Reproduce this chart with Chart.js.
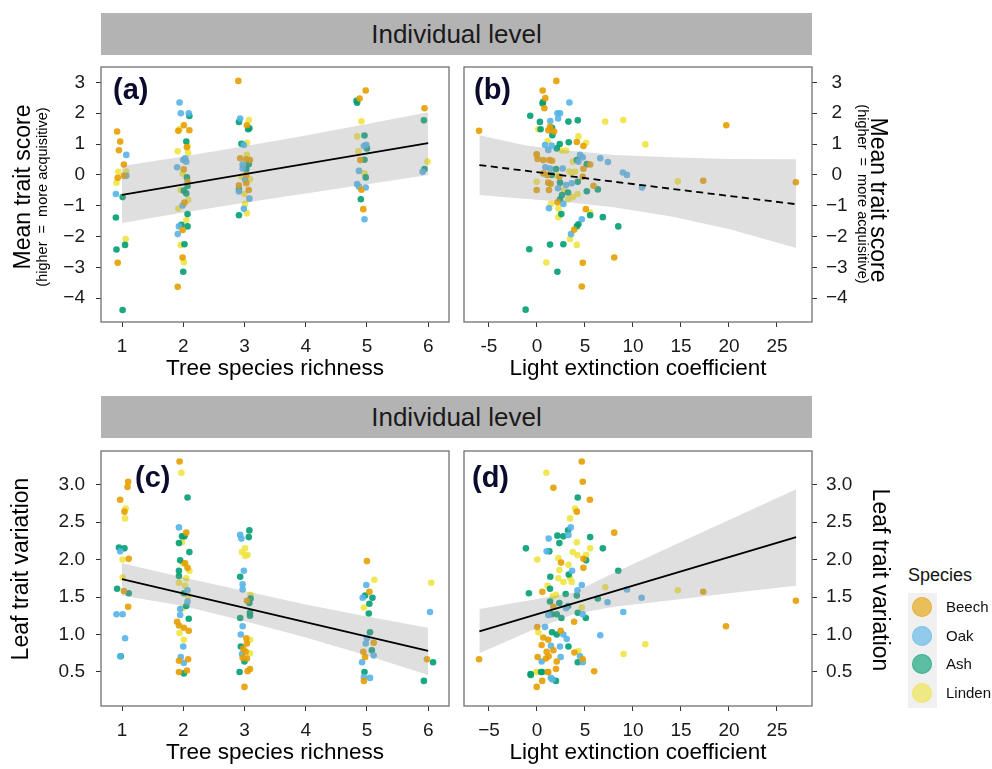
<!DOCTYPE html>
<html>
<head>
<meta charset="utf-8">
<script src="https://cdn.jsdelivr.net/npm/chart.js@4.4.1/dist/chart.umd.min.js"></script>
<style>
  html, body { margin: 0; padding: 0; background: #fff; overflow: hidden; }
  #page { position: relative; width: 992px; height: 769px; font-family: "Liberation Sans", Arial, sans-serif; }
  canvas { position: absolute; }
  .strip { position: absolute; left: 101px; width: 711px; height: 42px; background: #b3b3b3;
           color: #1a1a1a; font-size: 26px; line-height: 42px; text-align: center; }
  #legend { position: absolute; left: 908px; top: 562px; width: 84px; }
  #legend .ttl { font-size: 18px; height: 26px; line-height: 26px; color: #111; }
  #legend .keys { position: absolute; left: 0; top: 31px; width: 29px; height: 115px; background: #f0f0f0; }
  #legend .dot { position: absolute; left: 4px; width: 20px; height: 20px; border-radius: 50%; }
  #legend .lab { position: absolute; left: 38px; font-size: 15px; line-height: 20px; color: #111; }
</style>
</head>
<body>
<div id="page">
  <div class="strip" style="top:13px">Individual level</div>
  <div class="strip" style="top:396px">Individual level</div>
  <canvas id="pa" width="460" height="330" style="left:0;top:60px"></canvas>
  <canvas id="pb" width="445" height="330" style="left:455px;top:60px"></canvas>
  <canvas id="pc" width="460" height="330" style="left:0;top:444px"></canvas>
  <canvas id="pd" width="445" height="330" style="left:455px;top:444px"></canvas>
  <div id="legend"><div class="ttl">Species</div><div class="keys"></div></div>
</div>
<script>
// species: 0 Beech, 1 Oak, 2 Ash, 3 Linden
const speciesNames = ['Beech', 'Oak', 'Ash', 'Linden'];
const speciesColors = ['230,159,0', '86,180,233', '0,158,115', '240,228,66'];

// [richness (jittered), mean trait score, species]
const richnessScore = [
  [0.92,1.41,0],[0.97,1.08,0],[0.95,0.80,0],[1.03,0.34,0],[0.94,0.10,3],[0.93,-0.09,0],[1.07,0.11,3],[1.07,0.65,1],[1.07,-0.03,1],[1.03,-0.03,0],
  [0.91,-0.25,3],[0.90,-0.62,1],[1.01,-0.72,2],[0.90,-1.38,2],[1.06,-2.08,3],[1.05,-2.27,2],[0.91,-2.42,2],[0.93,-2.85,0],[1.01,-4.38,2],
  [1.94,2.35,1],[1.96,2.0,1],[2.09,2.0,1],[2.10,1.91,2],[2.01,1.61,0],[2.10,1.45,0],[1.92,1.43,0],[1.94,1.48,3],[2.05,1.08,2],[2.07,0.94,3],
  [2.06,0.90,0],[1.91,0.77,3],[2.08,0.72,3],[2.03,0.54,1],[2.0,0.48,1],[2.05,0.43,1],[1.90,0.25,1],[2.01,0.18,0],[1.99,0.05,3],[2.06,-0.08,2],
  [2.07,-0.22,0],[2.07,-0.36,2],[1.96,-0.49,3],[2.01,-0.51,2],[2.05,-0.60,2],[2.02,-0.90,0],[2.08,-0.81,3],[1.99,-0.99,1],[1.92,-1.09,3],[2.07,-1.27,2],
  [2.05,-1.46,3],[1.97,-1.62,2],[2.07,-1.67,2],[1.93,-1.67,1],[1.99,-1.79,0],[1.91,-1.92,1],[1.96,-2.27,3],[2.02,-2.25,2],[1.99,-2.68,0],[2.01,-2.83,3],
  [2.0,-3.14,2],[1.91,-3.63,0],
  [2.90,3.05,0],[2.93,1.83,1],[2.91,1.72,2],[3.07,1.78,3],[3.04,1.61,0],[3.08,1.51,2],[3.06,1.48,2],[2.95,1.01,2],[2.99,0.97,1],[3.04,1.04,3],
  [3.04,0.65,3],[2.93,0.54,0],[3.09,0.48,0],[3.03,0.51,0],[3.07,0.35,2],[2.97,0.34,1],[2.97,0.21,1],[3.03,0.18,2],[2.95,-0.06,3],[3.03,0.0,0],
  [3.01,-0.16,1],[3.09,-0.14,3],[3.03,-0.27,0],[2.91,-0.34,0],[3.07,-0.49,0],[2.91,-0.47,2],[2.91,-0.54,1],[3.0,-0.62,3],[3.08,-0.77,1],[3.01,-0.94,3],
  [2.99,-1.10,1],[3.04,-1.24,3],[2.91,-1.31,2],
  [4.83,2.40,2],[4.84,2.34,2],[4.88,2.48,0],[4.98,2.74,0],[4.91,1.74,3],[4.96,1.28,2],[4.84,1.25,3],[4.99,0.98,1],[4.95,0.94,1],[5.0,0.86,2],
  [4.86,0.77,3],[4.89,0.48,0],[4.96,0.49,2],[4.87,0.13,1],[4.96,0.05,3],[4.98,-0.08,2],[4.84,-0.30,1],[4.98,-0.41,1],[4.87,-0.38,1],[4.91,-0.48,0],
  [4.90,-0.79,2],[4.94,-1.11,0],[4.96,-1.44,1],
  [5.94,2.16,0],[5.93,1.77,2],[5.99,0.43,3],[5.94,0.19,2],[5.91,0.10,1]
];

// [light extinction coefficient, mean trait score, species]
const lightScore = [
  [-6.03,1.43,0],[2.02,3.05,0],[0.59,2.74,0],[0.87,2.49,0],[0.63,2.36,2],[0.59,2.32,2],[0.77,2.16,0],[3.38,2.35,1],[2.13,2.0,1],[2.40,2.0,1],
  [2.20,1.83,1],[-0.70,1.92,2],[0.31,1.72,2],[1.39,1.75,1],[3.28,1.73,2],[4.25,1.77,2],[7.11,1.73,3],[8.99,1.78,3],[19.72,1.61,0],[0.38,1.48,2],
  [0.14,1.48,3],[1.18,1.45,0],[1.36,1.56,0],[1.57,1.53,2],[1.78,1.41,0],[1.60,1.29,2],[4.32,1.25,3],[1.11,1.10,3],[3.31,1.06,2],[4.15,1.07,0],
  [5.12,1.04,3],[4.84,0.94,0],[0.84,0.97,1],[1.53,0.95,1],[2.37,1.0,2],[2.06,0.86,2],[2.61,0.79,3],[3.03,0.79,3],[11.29,0.99,3],[1.18,0.81,1],
  [-0.03,0.67,0],[-0.03,0.65,3],[4.49,0.65,1],[4.77,0.57,1],[6.59,0.54,1],[7.39,0.42,1],[0.07,0.52,0],[0.66,0.48,0],[1.29,0.48,0],[1.57,0.46,0],
  [4.15,0.48,2],[3.73,0.43,3],[4.32,0.43,1],[5.54,0.34,0],[5.19,0.35,2],[4.84,0.20,0],[0.87,0.25,1],[1.36,0.21,1],[1.99,0.19,2],[2.68,0.21,1],
  [3.38,0.11,3],[3.62,0.08,3],[3.97,0.10,3],[8.95,0.08,1],[9.37,0.0,1],[0.66,0.05,0],[1.08,0.0,0],[1.53,0.0,2],[2.33,-0.06,0],[2.13,-0.03,3],
  [4.77,-0.06,0],[-0.03,-0.22,3],[1.18,-0.25,0],[1.43,-0.29,0],[2.40,-0.25,2],[3.03,-0.33,1],[3.62,-0.27,1],[4.25,-0.22,2],[14.67,-0.21,3],[17.32,-0.19,0],
  [26.97,-0.24,0],[10.94,-0.41,1],[5.89,-0.35,0],[6.34,-0.47,2],[-0.03,-0.49,0],[1.25,-0.49,0],[2.20,-0.43,1],[3.24,-0.57,2],[2.61,-0.65,2],[2.82,-0.49,3],
  [5.19,-0.53,2],[3.28,-0.79,3],[3.73,-0.72,3],[4.22,-0.62,3],[2.40,-0.79,2],[2.75,-0.94,1],[2.13,-0.89,0],[1.46,-0.94,3],[1.25,-1.08,1],[2.23,-1.09,3],
  [5.09,-1.11,0],[5.54,-1.22,3],[5.54,-1.31,2],[2.54,-1.27,2],[2.23,-1.37,3],[6.86,-1.37,2],[4.67,-1.44,1],[8.47,-1.67,2],[4.32,-1.60,2],[4.15,-1.67,2],
  [3.87,-1.78,0],[3.55,-1.92,1],[3.45,-2.08,3],[1.36,-2.26,2],[2.75,-2.25,2],[4.15,-2.27,3],[-0.80,-2.41,2],[8.05,-2.68,0],[0.98,-2.84,3],[4.77,-2.85,0],
  [2.13,-3.14,2],[4.67,-3.62,0],[-1.18,-4.37,2]
];

// [richness (jittered), leaf trait variation, species]
const richnessVar = [
  [1.10,3.04,0],[1.09,2.97,0],[0.97,2.80,0],[1.06,2.68,3],[1.04,2.64,0],[1.05,2.55,3],[0.95,2.16,2],[1.04,2.15,2],[0.97,2.11,1],[1.01,2.0,3],
  [1.11,2.01,0],[1.01,1.76,3],[0.92,1.61,2],[1.03,1.58,0],[1.11,1.55,2],[1.10,1.37,0],[0.91,1.27,1],[1.01,1.27,1],[1.05,0.95,1],[0.98,0.71,2],[0.97,0.71,1],
  [1.94,3.31,0],[1.97,3.16,3],[2.07,2.83,2],[1.93,2.43,1],[2.05,2.36,0],[1.98,2.31,2],[2.02,2.31,2],[1.98,2.23,3],[1.93,2.22,2],[2.10,2.10,2],
  [1.95,1.99,2],[2.0,1.95,3],[2.03,1.95,0],[2.07,1.89,0],[2.10,1.85,3],[1.93,1.85,2],[1.93,1.78,2],[2.05,1.75,3],[1.93,1.69,3],[2.03,1.65,3],
  [2.07,1.59,1],[2.01,1.55,2],[2.08,1.51,3],[2.07,1.44,1],[2.05,1.38,2],[1.95,1.34,1],[1.99,1.35,3],[1.95,1.26,1],[2.09,1.21,2],[1.90,1.17,0],
  [1.93,1.12,0],[2.01,1.09,0],[2.09,1.05,0],[1.94,1.02,3],[2.01,0.93,3],[2.0,0.84,1],[1.96,0.70,1],[2.08,0.67,0],[1.93,0.65,0],[2.01,0.62,1],
  [1.93,0.50,0],[2.01,0.48,2],[2.06,0.52,0],
  [3.08,2.39,2],[2.93,2.33,1],[2.95,2.28,1],[3.07,2.30,2],[3.01,2.15,3],[2.96,2.10,3],[3.05,2.06,3],[3.01,2.05,3],[2.99,1.85,1],[2.93,1.77,2],
  [2.97,1.67,1],[2.97,1.60,1],[3.10,1.53,3],[3.04,1.45,0],[3.10,1.48,2],[3.08,1.42,2],[3.09,1.29,2],[3.09,1.25,2],[2.93,1.22,2],[2.97,1.11,1],
  [2.94,1.0,1],[3.03,0.95,0],[3.09,0.93,3],[3.04,0.88,0],[2.94,0.84,2],[2.98,0.81,0],[3.02,0.77,0],[3.09,0.75,3],[2.96,0.74,1],[2.97,0.69,0],
  [3.04,0.68,0],[3.0,0.64,2],[3.09,0.54,0],[3.05,0.51,0],[2.92,0.50,2],[3.0,0.30,0],
  [5.0,1.98,0],[5.12,1.73,3],[4.99,1.66,1],[5.04,1.57,0],[5.09,1.49,2],[4.93,1.49,1],[4.97,1.52,2],[5.04,1.41,2],[4.95,1.36,3],[5.03,1.28,2],
  [5.05,1.03,2],[5.0,0.95,1],[4.98,0.88,1],[5.11,0.89,0],[4.94,0.77,0],[5.08,0.79,2],[5.11,0.72,1],[4.97,0.70,0],[4.92,0.63,1],[4.96,0.50,2],
  [4.95,0.43,1],[5.05,0.42,1],[4.95,0.38,0],
  [6.05,1.69,3],[6.03,1.30,1],[5.98,0.67,0],[6.08,0.63,2],[5.93,0.38,2]
];

// [light extinction coefficient, leaf trait variation, species]
const lightVar = [
  [4.67,3.31,0],[0.98,3.16,3],[4.77,3.04,0],[1.71,2.96,0],[4.25,2.83,2],[5.51,2.80,0],[3.97,2.68,3],[4.15,2.64,0],[3.45,2.55,3],[3.52,2.43,1],
  [3.24,2.39,2],[8.05,2.36,0],[3.28,2.33,1],[2.13,2.32,2],[2.75,2.31,2],[1.22,2.28,1],[5.54,2.30,2],[2.33,2.22,2],[4.15,2.23,3],[-1.15,2.15,2],
  [6.86,2.15,2],[5.54,2.15,3],[1.01,2.11,1],[1.29,2.11,2],[3.73,2.10,3],[4.22,2.06,3],[5.12,2.06,3],[0.03,2.0,3],[2.23,2.02,3],[4.84,2.01,0],
  [5.12,1.99,2],[2.51,1.96,0],[3.28,1.93,3],[2.33,1.86,3],[4.84,1.89,0],[3.66,1.85,1],[8.47,1.85,2],[3.31,1.80,2],[1.39,1.77,2],[2.23,1.75,3],
  [3.45,1.75,3],[2.75,1.70,3],[3.62,1.70,3],[4.67,1.66,1],[1.11,1.65,3],[1.36,1.61,2],[4.22,1.59,1],[0.56,1.57,0],[-0.84,1.55,2],[2.99,1.54,2],
  [1.99,1.53,3],[7.11,1.63,3],[9.37,1.60,1],[14.67,1.59,3],[17.32,1.57,0],[10.9,1.49,1],[7.35,1.43,1],[6.34,1.48,2],[4.15,1.52,2],[1.64,1.51,3],
  [1.36,1.44,2],[2.33,1.42,2],[26.97,1.45,0],[1.71,1.37,0],[4.67,1.36,3],[3.03,1.35,1],[3.24,1.38,2],[1.18,1.26,1],[1.53,1.27,2],[2.06,1.27,2],
  [2.54,1.22,2],[4.25,1.29,2],[4.77,1.27,1],[5.09,1.22,2],[8.99,1.30,1],[3.87,1.17,0],[19.69,1.11,0],[0.03,1.10,0],[0.84,1.10,1],[0.14,1.03,3],
  [1.57,1.03,2],[2.47,1.05,0],[2.06,1.0,2],[2.75,1.0,1],[0.66,0.96,0],[3.1,0.94,1],[6.59,0.99,1],[1.18,0.93,0],[0.49,0.86,0],[1.46,0.85,1],
  [3.28,0.84,2],[2.40,0.84,1],[11.29,0.87,3],[1.01,0.77,0],[1.71,0.79,0],[-6.03,0.67,0],[9.02,0.74,3],[4.32,0.78,3],[3.90,0.76,0],[2.47,0.70,1],
  [0.07,0.70,0],[0.94,0.68,0],[1.22,0.71,0],[0.49,0.64,1],[4.49,0.71,1],[4.77,0.67,0],[4.77,0.63,1],[4.25,0.63,2],[2.06,0.64,0],[5.96,0.51,0],
  [-0.03,0.50,3],[0.42,0.50,2],[1.18,0.50,0],[-0.66,0.47,2],[-0.65,0.46,2],[-0.07,0.50,3],[0.54,0.50,2],[1.13,0.50,0],[0.54,0.38,0],[-0.03,0.30,0],
  [1.45,0.42,1],[1.60,0.40,1],[1.98,0.38,2],[1.98,0.54,0]
];

// fitted lines [x, y] and confidence bands [x, lower, upper]
const fitRichScore = [[1, -0.65], [6, 1.03]];
const bandRichScore = [[1,-1.56,0.29],[2,-1.22,0.60],[3,-0.90,0.93],[4,-0.60,1.28],[5,-0.30,1.65],[6,0.0,2.03]];
const fitLightScore = [[-6, 0.32], [27, -0.95]];
const bandLightScore = [[-6,-0.65,1.29],[-1,-0.78,0.95],[3,-0.88,0.80],[8,-1.05,0.65],[14,-1.35,0.57],[20,-1.75,0.52],[27,-2.37,0.51]];
const fitRichVar = [[1, 1.74], [6, 0.78]];
const bandRichVar = [[1,1.52,1.95],[2,1.38,1.76],[3,1.18,1.58],[4,0.96,1.40],[5,0.72,1.24],[6,0.46,1.09]];
const fitLightVar = [[-6, 1.04], [27, 2.30]];
const bandLightVar = [[-6,0.75,1.34],[-1,1.03,1.45],[3.8,1.27,1.56],[8,1.37,1.82],[14.25,1.46,2.19],[20,1.55,2.53],[27,1.65,2.94]];

const richTicks = [1, 2, 3, 4, 5, 6];
const lightTicks = [-5, 0, 5, 10, 15, 20, 25];
const scoreTicks = [-4, -3, -2, -1, 0, 1, 2, 3];
const varTicks = [0.5, 1.0, 1.5, 2.0, 2.5, 3.0];

Chart.defaults.font.family = '"Liberation Sans", Arial, sans-serif';
Chart.defaults.color = '#1a1a1a';

const minus = v => (v < 0 ? '\u2212' + Math.abs(v) : String(v));

const decor = {
  id: 'decor',
  afterDraw(chart, args, o) {
    const { ctx, chartArea: a } = chart;
    ctx.save();
    ctx.strokeStyle = '#707070';
    ctx.lineWidth = 1.3;
    ctx.strokeRect(a.left, a.top, a.right - a.left, a.bottom - a.top);
    ctx.fillStyle = '#0b0b2e';
    ctx.font = 'bold 29px "Liberation Sans", Arial, sans-serif';
    ctx.textAlign = 'left';
    ctx.textBaseline = 'alphabetic';
    ctx.fillText(o.tag, a.left + o.tagDx, a.top + o.tagDy);
    o.titles.forEach(t => {
      ctx.save();
      ctx.translate(t.x - o.ox, t.y - o.oy);
      ctx.rotate(t.rot);
      ctx.font = t.size + 'px "Liberation Sans", Arial, sans-serif';
      ctx.fillStyle = '#000';
      ctx.textAlign = 'center';
      ctx.textBaseline = 'middle';
      ctx.fillText(t.text, 0, 0);
      ctx.restore();
    });
    ctx.restore();
  }
};

function panel(id, p) {
  const datasets = [];
  datasets.push({
    type: 'line', data: p.fit.map(d => ({ x: d[0], y: d[1] })),
    borderColor: '#000', borderWidth: 1.8, borderDash: p.dashed ? [7, 4.5] : [],
    pointRadius: 0, fill: false, order: 1
  });
  datasets.push({
    type: 'line', data: p.band.map(d => ({ x: d[0], y: d[1] })),
    borderWidth: 0, pointRadius: 0, fill: false, order: 2
  });
  datasets.push({
    type: 'line', data: p.band.map(d => ({ x: d[0], y: d[2] })),
    borderWidth: 0, pointRadius: 0, fill: '-1', backgroundColor: 'rgba(150,150,150,0.3)', order: 2
  });
  speciesNames.forEach((name, s) => {
    datasets.push({
      type: 'scatter', label: name,
      data: p.points.filter(d => d[2] === s).map(d => ({ x: d[0], y: d[1] })),
      backgroundColor: 'rgba(' + speciesColors[s] + ',0.9)', borderWidth: 0,
      pointRadius: 3.3, pointHoverRadius: 3.3, order: 3
    });
  });

  const right = p.yPos === 'right';
  new Chart(document.getElementById(id), {
    type: 'scatter',
    data: { datasets },
    plugins: [decor],
    options: {
      responsive: false,
      animation: false,
      events: [],
      layout: { padding: { top: 7, left: right ? 9 : 0, right: right ? 0 : 11, bottom: 0 } },
      scales: {
        x: {
          type: 'linear', min: p.xMin, max: p.xMax,
          afterBuildTicks: s => { s.ticks = p.xTicks.map(v => ({ value: v })); },
          afterFit: s => { s.height = 68; s.paddingLeft = 0; s.paddingRight = 0; },
          grid: { drawOnChartArea: false, drawTicks: true, tickLength: 5, color: '#333' },
          border: { display: false },
          ticks: { font: { size: 19 }, padding: 8, maxRotation: 0, autoSkip: false, callback: p.xFmt },
          title: { display: true, text: p.xTitle, font: { size: 22.5 }, color: '#000', padding: { top: 0, bottom: 8 } }
        },
        y: {
          type: 'linear', position: p.yPos, min: p.yMin, max: p.yMax,
          afterBuildTicks: s => { s.ticks = p.yTicks.map(v => ({ value: v })); },
          afterFit: s => { s.width = right ? 88 : 101; s.paddingTop = 0; s.paddingBottom = 0; },
          grid: { drawOnChartArea: false, drawTicks: true, tickLength: 5, color: '#333' },
          border: { display: false },
          ticks: { font: { size: 19 }, padding: right ? 9 : 11, crossAlign: right ? 'center' : 'near', callback: p.yFmt }
        }
      },
      plugins: {
        legend: { display: false },
        tooltip: { enabled: false },
        decor: { tag: p.tag, tagDx: p.tagDx, tagDy: p.tagDy, ox: p.ox, oy: p.oy, titles: p.titles }
      }
    }
  });
}

const scoreFmt = v => minus(v);
const varFmt = v => v.toFixed(1);

panel('pa', {
  points: richnessScore, fit: fitRichScore, band: bandRichScore, dashed: false,
  xMin: 0.657, xMax: 6.34, xTicks: richTicks, xFmt: v => String(v), xTitle: 'Tree species richness',
  yMin: -4.77, yMax: 3.5, yTicks: scoreTicks, yFmt: scoreFmt, yPos: 'left',
  tag: '(a)', tagDx: 12, tagDy: 32, ox: 0, oy: 60,
  titles: [
    { text: 'Mean trait score', x: 24, y: 187, rot: -Math.PI / 2, size: 23 },
    { text: '(higher  =  more acquisitive)', x: 43, y: 197, rot: -Math.PI / 2, size: 14.5 }
  ]
});
panel('pb', {
  points: lightScore, fit: fitLightScore, band: bandLightScore, dashed: true,
  xMin: -7.6, xMax: 28.65, xTicks: lightTicks, xFmt: v => String(v), xTitle: 'Light extinction coefficient',
  yMin: -4.77, yMax: 3.5, yTicks: scoreTicks, yFmt: scoreFmt, yPos: 'right',
  tag: '(b)', tagDx: 10, tagDy: 32, ox: 455, oy: 60,
  titles: [
    { text: 'Mean trait score', x: 877, y: 200, rot: Math.PI / 2, size: 23 },
    { text: '(higher  =  more acquisitive)', x: 862, y: 194, rot: Math.PI / 2, size: 14.5 }
  ]
});
panel('pc', {
  points: richnessVar, fit: fitRichVar, band: bandRichVar, dashed: false,
  xMin: 0.657, xMax: 6.34, xTicks: richTicks, xFmt: v => String(v), xTitle: 'Tree species richness',
  yMin: 0.045, yMax: 3.45, yTicks: varTicks, yFmt: varFmt, yPos: 'left',
  tag: '(c)', tagDx: 34, tagDy: 36, ox: 0, oy: 444,
  titles: [
    { text: 'Leaf trait variation', x: 22, y: 569, rot: -Math.PI / 2, size: 23 }
  ]
});
panel('pd', {
  points: lightVar, fit: fitLightVar, band: bandLightVar, dashed: false,
  xMin: -7.6, xMax: 28.65, xTicks: lightTicks, xFmt: v => minus(v), xTitle: 'Light extinction coefficient',
  yMin: 0.045, yMax: 3.45, yTicks: varTicks, yFmt: varFmt, yPos: 'right',
  tag: '(d)', tagDx: 8, tagDy: 36, ox: 455, oy: 444,
  titles: [
    { text: 'Leaf trait variation', x: 879, y: 580, rot: Math.PI / 2, size: 23 }
  ]
});

// legend
const keys = document.querySelector('#legend .keys');
const legendRowY = [4, 33, 61, 90];
speciesNames.forEach((name, i) => {
  const dot = document.createElement('div');
  dot.className = 'dot';
  dot.style.top = legendRowY[i] + 'px';
  dot.style.background = 'rgba(' + speciesColors[i] + ',0.62)';
  dot.style.boxShadow = 'inset 0 0 0 1px rgba(' + speciesColors[i] + ',0.35)';
  keys.appendChild(dot);
  const lab = document.createElement('div');
  lab.className = 'lab';
  lab.style.top = legendRowY[i] + 'px';
  lab.textContent = name;
  keys.appendChild(lab);
});
</script>
</body>
</html>
